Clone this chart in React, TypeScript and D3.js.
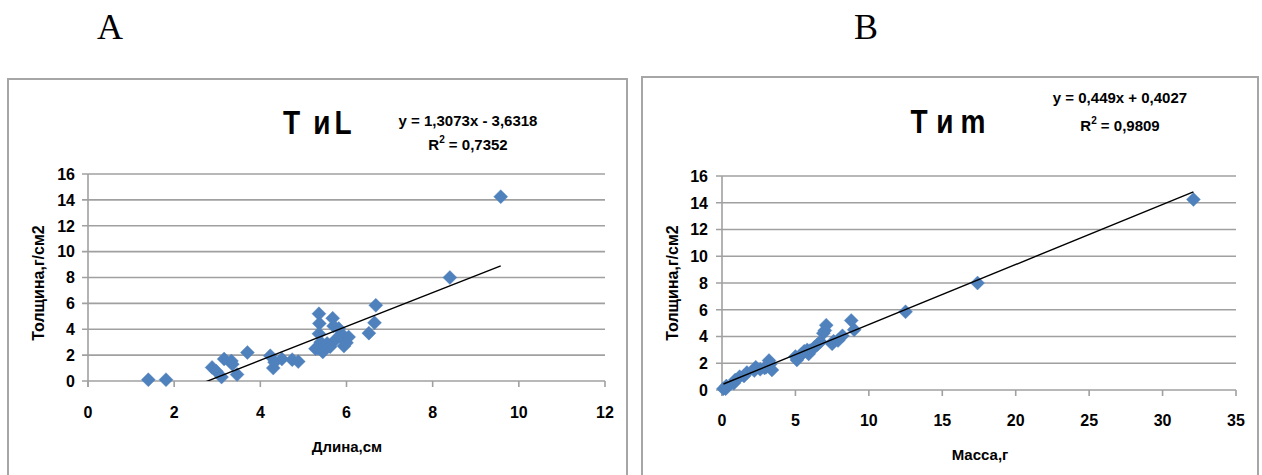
import React from "react";
import * as d3 from "d3";

// ---- Data ----
const sampleThickness = [
  0.1, 0.1, 1.05, 0.75, 0.3, 1.7, 1.55, 1.3, 0.5, 2.2, 1.95, 1.0, 1.45, 1.7, 1.65, 1.5,
  5.2, 4.45, 3.65, 2.5, 2.55, 2.25, 3.0, 2.9, 2.65, 4.85, 4.25, 3.2, 4.05, 3.45, 3.6,
  2.7, 2.95, 3.4, 3.7, 4.5, 5.85, 8.0, 14.25,
];
const sampleLength = [
  1.4, 1.81, 2.88, 2.98, 3.1, 3.16, 3.33, 3.35, 3.46, 3.7, 4.23, 4.3, 4.33, 4.5, 4.74, 4.88,
  5.36, 5.37, 5.36, 5.28, 5.33, 5.45, 5.4, 5.55, 5.62, 5.68, 5.7, 5.75, 5.82, 5.85, 5.9,
  5.94, 6.0, 6.05, 6.52, 6.65, 6.68, 8.4, 9.58,
];
const sampleMass = [
  0.1, 0.25, 1.5, 0.9, 0.3, 2.3, 2.6, 1.7, 0.8, 3.2, 3.3, 1.2, 2.2, 3.0, 2.9, 3.4,
  8.8, 7.0, 7.6, 5.0, 5.3, 5.1, 5.8, 5.6, 5.4, 7.1, 6.9, 6.3, 8.2, 7.5, 6.7,
  5.9, 6.0, 6.5, 7.9, 9.0, 12.5, 17.4, 32.1,
];
const trendA = { slope: 1.3073, intercept: -3.6318, r2: "0,7352", eq: "y = 1,3073x - 3,6318" };
const trendB = { slope: 0.449, intercept: 0.4027, r2: "0,9809", eq: "y = 0,449x + 0,4027" };
const titleA = ["Т", "и", "L"];
const titleB = ["Т", "и", "m"];
const yTicks = [0, 2, 4, 6, 8, 10, 12, 14, 16];
const xTicksA = [0, 2, 4, 6, 8, 10, 12];
const xTicksB = [0, 5, 10, 15, 20, 25, 30, 35];

const FONT = "'Liberation Sans', Arial, sans-serif";
const BLUE = "#4F81BD";
const GRID = "#a0a0a0";

const diamond = {
  draw(ctx: any, size: number) {
    const r = Math.sqrt(size / 2);
    ctx.moveTo(0, -r);
    ctx.lineTo(r, 0);
    ctx.lineTo(0, r);
    ctx.lineTo(-r, 0);
    ctx.closePath();
  },
};
const markerPath = d3.symbol().type(diamond as any).size(2 * 7 * 7)() as string;

type PanelProps = {
  id: string;
  border: { x: number; y: number; w: number; h: number };
  plot: { left: number; right: number; bottom: number; top: number };
  xDomain: [number, number];
  xTicks: number[];
  xs: number[];
  ys: number[];
  trend: { slope: number; intercept: number; r2: string; eq: string };
  title: string[];
  titlePos: { y: number; xs: number[] };
  eqPos: { x: number; y: number; y2: number };
  xLabel: string;
  xLabelPos: { x: number; y: number };
  yLabelPos: { x: number; y: number };
  xTickY: number;
  yTickX: number;
};

function Panel(p: PanelProps) {
  const x = d3.scaleLinear().domain(p.xDomain).range([p.plot.left, p.plot.right]);
  const y = d3.scaleLinear().domain([0, 16]).range([p.plot.bottom, p.plot.top]);
  const xmin = d3.min(p.xs) as number;
  const xmax = d3.max(p.xs) as number;
  const line = d3
    .line<number>()
    .x((d) => x(d))
    .y((d) => y(p.trend.slope * d + p.trend.intercept));
  const clipId = "clip-" + p.id;
  const sx = 0.85;
  return (
    <g>
      <rect x={p.border.x} y={p.border.y} width={p.border.w} height={p.border.h} fill="white" stroke="#a6a6a6" strokeWidth={2} />
      <defs>
        <clipPath id={clipId}>
          <rect x={p.plot.left} y={p.plot.top - 20} width={p.plot.right - p.plot.left} height={p.plot.bottom - p.plot.top + 20} />
        </clipPath>
      </defs>
      {yTicks.map((t) => (
        <line key={"g" + t} x1={p.plot.left - 6} x2={p.plot.right} y1={y(t)} y2={y(t)} stroke={GRID} strokeWidth={1.6} />
      ))}
      <line x1={p.plot.left} x2={p.plot.left} y1={p.plot.top} y2={p.plot.bottom + 6} stroke={GRID} strokeWidth={1.6} />
      {p.xTicks.map((t) => (
        <line key={"xt" + t} x1={x(t)} x2={x(t)} y1={p.plot.bottom} y2={p.plot.bottom + 6} stroke={GRID} strokeWidth={1.6} />
      ))}
      {yTicks.map((t) => (
        <text key={"yl" + t} x={p.yTickX} y={y(t)} dy="0.36em" textAnchor="end" fontFamily={FONT} fontWeight="bold" fontSize={16}>
          {t}
        </text>
      ))}
      {p.xTicks.map((t) => (
        <text key={"xl" + t} x={x(t)} y={p.xTickY} dy="0.36em" textAnchor="middle" fontFamily={FONT} fontWeight="bold" fontSize={16}>
          {t}
        </text>
      ))}
      {p.xs.map((v, i) => (
        <path key={"p" + i} d={markerPath} transform={`translate(${x(v)},${y(p.ys[i])})`} fill={BLUE} stroke={BLUE} strokeWidth={0.5} strokeOpacity={0.8} />
      ))}
      <path d={line([xmin, xmax]) as string} clipPath={`url(#${clipId})`} fill="none" stroke="black" strokeWidth={1.4} />
      <text transform={`translate(0,${p.titlePos.y}) scale(${sx},1)`} textAnchor="middle" fontFamily={FONT} fontWeight="bold" fontSize={33}>
        {p.title.map((c, i) => (
          <tspan key={i} x={p.titlePos.xs[i] / sx}>
            {c}
          </tspan>
        ))}
      </text>
      <text x={p.eqPos.x} y={p.eqPos.y} textAnchor="middle" fontFamily={FONT} fontWeight="bold" fontSize={15}>
        {p.trend.eq}
      </text>
      <text x={p.eqPos.x} y={p.eqPos.y2} textAnchor="middle" fontFamily={FONT} fontWeight="bold" fontSize={15}>
        R<tspan fontSize={10} dy={-7}>2</tspan>
        <tspan dy={7}>{" = " + p.trend.r2}</tspan>
      </text>
      <text x={p.xLabelPos.x} y={p.xLabelPos.y} dy="0.36em" textAnchor="middle" fontFamily={FONT} fontWeight="bold" fontSize={15}>
        {p.xLabel}
      </text>
      <text transform={`translate(${p.yLabelPos.x},${p.yLabelPos.y}) rotate(-90)`} dy="0.36em" textAnchor="middle" fontFamily={FONT} fontWeight="bold" fontSize={16}>
        Толщина,г/см2
      </text>
    </g>
  );
}

export default function App() {
  return (
    <svg width={1262} height={475} style={{ position: "absolute", left: 0, top: 0, background: "white" }}>
      <rect x={0} y={0} width={1262} height={475} fill="white" />
      <text x={110} y={39} textAnchor="middle" fontFamily="'Liberation Serif', 'Times New Roman', serif" fontSize={36}>A</text>
      <text x={866} y={39} textAnchor="middle" fontFamily="'Liberation Serif', 'Times New Roman', serif" fontSize={36}>B</text>
      <Panel
        id="a"
        border={{ x: 8, y: 79, w: 619, h: 420 }}
        plot={{ left: 88, right: 605, bottom: 381, top: 174 }}
        xDomain={[0, 12]}
        xTicks={xTicksA}
        xs={sampleLength}
        ys={sampleThickness}
        trend={trendA}
        title={titleA}
        titlePos={{ y: 134, xs: [291.5, 322, 343] }}
        eqPos={{ x: 468, y: 126, y2: 150 }}
        xLabel="Длина,см"
        xLabelPos={{ x: 347, y: 447 }}
        yLabelPos={{ x: 38, y: 283 }}
        xTickY={412}
        yTickX={75}
      />
      <Panel
        id="b"
        border={{ x: 642, y: 77, w: 616, h: 420 }}
        plot={{ left: 722, right: 1236, bottom: 390, top: 176 }}
        xDomain={[0, 35]}
        xTicks={xTicksB}
        xs={sampleMass}
        ys={sampleThickness}
        trend={trendB}
        title={titleB}
        titlePos={{ y: 133, xs: [919, 945, 973] }}
        eqPos={{ x: 1120, y: 103, y2: 131 }}
        xLabel="Масса,г"
        xLabelPos={{ x: 980, y: 455 }}
        yLabelPos={{ x: 672, y: 283 }}
        xTickY={420}
        yTickX={708}
      />
    </svg>
  );
}
